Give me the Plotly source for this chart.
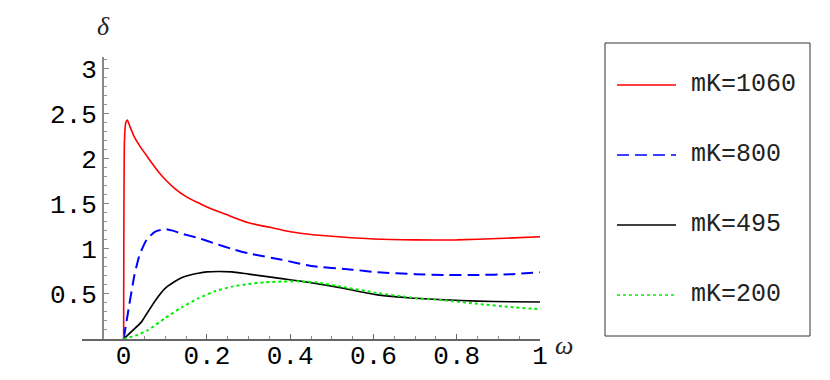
import plotly.graph_objects as go

# values
omega_1060 = [0, 0.002, 0.005, 0.009, 0.015, 0.025, 0.039, 0.059, 0.083, 0.1, 0.123, 0.15,
              0.175, 0.2, 0.25, 0.3, 0.35, 0.4, 0.45, 0.5, 0.6, 0.7, 0.8, 0.9, 1.0]
delta_1060 = [0, 2.2, 2.40, 2.43, 2.36, 2.25, 2.14, 2.01, 1.86, 1.77, 1.67, 1.58,
              1.52, 1.465, 1.375, 1.29, 1.24, 1.19, 1.16, 1.14, 1.11, 1.10, 1.10, 1.115, 1.135]

omega_800 = [0, 0.01, 0.026, 0.038, 0.055, 0.075, 0.099, 0.12, 0.139, 0.18, 0.219, 0.26,
             0.3, 0.38, 0.45, 0.55, 0.61, 0.7, 0.77, 0.85, 0.93, 1.0]
delta_800 = [0, 0.28, 0.71, 0.93, 1.10, 1.19, 1.22, 1.20, 1.17, 1.12, 1.06, 1.00,
             0.95, 0.88, 0.81, 0.77, 0.74, 0.72, 0.71, 0.71, 0.72, 0.74]

omega_495 = [0, 0.022, 0.043, 0.05, 0.075, 0.099, 0.12, 0.139, 0.16, 0.179, 0.2,
             0.227, 0.26, 0.3, 0.38, 0.45, 0.53, 0.61, 0.69, 0.77, 0.85, 0.93, 1.0]
delta_495 = [0, 0.095, 0.19, 0.24, 0.42, 0.56, 0.63, 0.68, 0.71, 0.73, 0.745,
             0.75, 0.745, 0.72, 0.67, 0.625, 0.56, 0.49, 0.455, 0.435, 0.42, 0.413, 0.41]

omega_200 = [0, 0.03, 0.059, 0.099, 0.139, 0.179, 0.219, 0.259, 0.3, 0.34, 0.38, 0.42,
             0.46, 0.53, 0.61, 0.69, 0.77, 0.85, 0.93, 1.0]
delta_200 = [0, 0.04, 0.10, 0.23, 0.35, 0.45, 0.53, 0.58, 0.61, 0.63, 0.637, 0.64,
             0.63, 0.575, 0.51, 0.46, 0.43, 0.39, 0.355, 0.33]

names = ["mK=1060", "mK=800", "mK=495", "mK=200"]
colors = ["#ff0000", "#0000ff", "#000000", "#00ee00"]
dashes = ["solid", "12px,6px", "solid", "3px,3px"]
widths = [1.6, 2, 1.6, 2]

xs = [omega_1060, omega_800, omega_495, omega_200]
ys = [delta_1060, delta_800, delta_495, delta_200]

x_ticks = [0, 0.2, 0.4, 0.6, 0.8, 1]
x_labels = ["0", "0.2", "0.4", "0.6", "0.8", "1"]
y_ticks = [0.5, 1, 1.5, 2, 2.5, 3]
y_labels = ["0.5", "1", "1.5", "2", "2.5", "3"]

# page body has an 8px margin, so the figure is a bit smaller and shifted
OFF = 8
W, H = 830 - OFF, 380 - OFF
ML, MR, MT, MB = 82 - OFF, 290, 57 - OFF, 41


def px(x):
    return (x - OFF - ML) / (W - ML - MR)


def py(y):
    return (H - MB - (y - OFF)) / (H - MT - MB)


fig = go.Figure()
for x, y, n, c, d, w in zip(xs, ys, names, colors, dashes, widths):
    fig.add_trace(go.Scatter(x=x, y=y, mode="lines", name=n, showlegend=False,
                             line=dict(color=c, dash=d, width=w, shape="spline", smoothing=0.5)))

tickfont = dict(family="Liberation Mono", size=26, color="black")
fig.update_layout(
    width=W, height=H,
    margin=dict(l=ML, r=MR, t=MT, b=MB),
    plot_bgcolor="white", paper_bgcolor="white",
    xaxis=dict(range=[-0.1, 1.0], showgrid=False, zeroline=False, automargin=False,
               showline=True, linecolor="#666", linewidth=1.5,
               tickmode="array", tickvals=x_ticks, ticktext=x_labels,
               ticks="inside", ticklen=5, tickcolor="#666", tickfont=tickfont,
               ticklabelstandoff=-8,
               minor=dict(tickmode="linear", tick0=0, dtick=0.05, ticks="inside",
                          ticklen=3, tickcolor="#888")),
    yaxis=dict(range=[0, 3.13], showgrid=False, zeroline=False, automargin=False,
               anchor="free", position=0.05 / 1.1,
               showline=True, linecolor="#888", linewidth=1.5,
               tickmode="array", tickvals=y_ticks, ticktext=y_labels,
               ticks="inside", ticklen=5, tickcolor="#888", tickfont=tickfont,
               minor=dict(tickmode="linear", tick0=0, dtick=0.1, ticks="inside",
                          ticklen=3, tickcolor="#999")),
)

# axis labels
fig.add_annotation(x=px(103), y=py(27), xref="paper", yref="paper", text="<i>δ</i>",
                   xanchor="center", yanchor="middle", showarrow=False,
                   font=dict(family="Liberation Serif", size=26, color="#222"))
fig.add_annotation(x=px(564), y=py(345), xref="paper", yref="paper", text="<i>ω</i>",
                   xanchor="center", yanchor="middle", showarrow=False,
                   font=dict(family="Liberation Serif", size=26, color="#222"))

# legend box
fig.add_shape(type="rect", xref="paper", yref="paper",
              x0=px(605), x1=px(810), y0=py(336), y1=py(43),
              line=dict(color="#333", width=1), fillcolor="white")
rows = [85, 155, 225, 295]
for r, n, c, d in zip(rows, names, colors, dashes):
    fig.add_shape(type="line", xref="paper", yref="paper",
                  x0=px(617), x1=px(676), y0=py(r), y1=py(r),
                  line=dict(color=c, dash=d, width=1.5))
    fig.add_annotation(x=px(689), y=py(r - 1), xref="paper", yref="paper", text=n,
                       xanchor="left", yanchor="middle", showarrow=False,
                       font=dict(family="Liberation Mono", size=25, color="#222"))

fig.write_html("out.html")
